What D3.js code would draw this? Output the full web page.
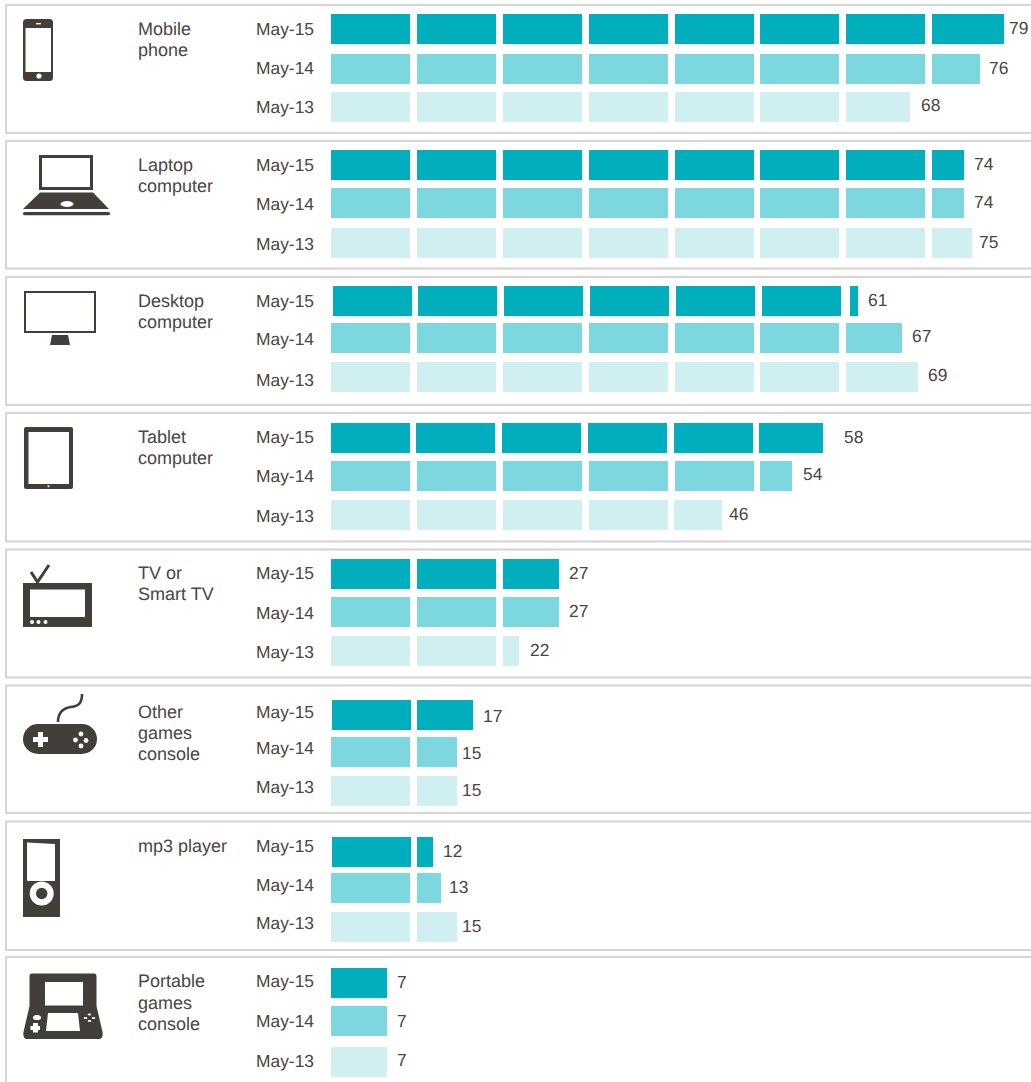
<!DOCTYPE html>
<html><head><meta charset="utf-8">
<script src="https://cdn.jsdelivr.net/npm/d3@7"></script>
<style>
html,body{margin:0;padding:0;background:#fff;overflow:hidden}
text{font-family:"Liberation Sans",Arial,sans-serif;font-size:17.4px;fill:#4a4642;text-rendering:geometricPrecision}
text.cat{font-size:18px}
</style></head><body><svg id="c" width="1031" height="1082"></svg>
<script>
// ---- data ----
const categories = [["Mobile","phone"],["Laptop","computer"],["Desktop","computer"],["Tablet","computer"],["TV or","Smart TV"],["Other","games","console"],["mp3 player"],["Portable","games","console"]];
const years = ["May-15","May-14","May-13"];
const may15 = [79,74,61,58,27,17,12,7];
const may14 = [76,74,67,54,27,15,13,7];
const may13 = [68,75,69,46,22,15,15,7];
const yearColors = ["#00aebd","#7dd7de","#d0eff1"];

// ---- layout ----
const panelTops = [5,141,277,413,549.5,685.5,821.5,957];
const panelBottoms = [133,268.5,405,541.5,677.5,813,950,1090];
const barTops = [[14,54,92],[150,188,228],[286,323,362],[423,461,500],[559,597,636],[700,737,776],[837,873,912],[968,1006,1047]];
const yearLabelY = [[29,68,107],[165,204,244],[301,339,380],[437,476,516],[573,613,652],[712,748,787],[846,885,923],[981,1021,1061]];
const valueLabelY = [[28,68,105],[164,202,242],[300,336,375],[437,474,514],[573,611,650],[716,753,790],[851,887,926],[982,1021,1060]];
const valueGap = [[5,9,11],[10,10,7],[10,10,10],[21,11,7],[10,10,11],[10,5,5],[10,8,5],[10,10,10]];
const segNudge = {"2-0":[2,1,1,1,1,2,4],"3-0":[0,-1,-1,-1,-1,-1],"3-2":[0,0,0,0,-1],"5-0":[1,0],"6-0":[1,0]};
const catLabelY = [[29,50],[165,186],[301,322],[437,458],[573,594],[712,733,754],[846],[981,1003,1024]];
const barH = 30, unit = 10;

const svg = d3.select("#c");
const series = [may15,may14,may13];
const segStart = d3.scaleLinear().domain([0,80]).range([331.4,331.4+8*85.8]);
const segLen = d3.scaleLinear().domain([0,9,10]).range([0,72,79]);
const ink = "#423f3a";

const panels = svg.selectAll("g.panel").data(categories).join("g").attr("class","panel");
panels.append("rect").attr("x",6).attr("y",(d,i)=>panelTops[i])
  .attr("width",1040).attr("height",(d,i)=>panelBottoms[i]-panelTops[i])
  .attr("fill","#fff").attr("stroke","#d5d3d3").attr("stroke-width",2);

panels.each(function(cat,p){
  const g = d3.select(this);
  const y = d3.scaleOrdinal(years, barTops[p]);
  const ly = d3.scaleOrdinal(years, yearLabelY[p]);
  const vy = d3.scaleOrdinal(years, valueLabelY[p]);
  g.append("text").attr("class","cat").selectAll("tspan").data(cat).join("tspan")
    .attr("x",138).attr("y",(d,i)=>catLabelY[p][i]).attr("dy","0.35em").text(d=>d);
  years.forEach((yr,r)=>{
    const v = series[r][p], nudge = segNudge[p+"-"+r]||[];
    const sx = i=>Math.round(segStart(i*unit))+(nudge[i]||0);
    g.append("text").attr("x",256).attr("y",ly(yr)).attr("dy","0.35em").text(yr);
    const full = Math.floor(v/unit), segs = d3.range(full).map(()=>unit);
    if(v%unit) segs.push(v%unit);
    g.selectAll(null).data(segs).join("rect")
      .attr("x",(d,i)=>sx(i))
      .attr("y",y(yr)).attr("width",d=>segLen(d)).attr("height",barH)
      .attr("fill",yearColors[r]);
    const end = sx(segs.length-1)+segLen(segs[segs.length-1]);
    g.append("text").attr("x",end+valueGap[p][r]).attr("y",vy(yr)).attr("dy","0.35em").text(v);
  });
});

// ---- icons ----
const W="#fff";
const icons = `
<g fill="${ink}">
<rect x="23" y="19" width="30" height="62" rx="3.5"/><rect x="25.5" y="28" width="25.5" height="44" fill="${W}"/>
<rect x="36" y="23" width="5" height="1.4" fill="${W}"/><circle cx="39" cy="76" r="2.6" fill="${W}"/>

<rect x="39" y="155" width="54" height="35"/><rect x="42" y="158" width="48" height="29" fill="${W}"/>
<path d="M40 192.5H93L109 209H23Z"/><ellipse cx="67" cy="204" rx="6.5" ry="3" fill="${W}"/>
<rect x="23" y="212" width="87" height="3.2" rx="1.5"/>

<rect x="24" y="291" width="72" height="42"/><rect x="26" y="293" width="68" height="38" fill="${W}"/>
<path d="M52 335H68L70 345H50Z"/>

<rect x="24" y="427" width="49" height="62" rx="2"/><rect x="28.5" y="432" width="40.5" height="52" fill="${W}"/>
<circle cx="48.5" cy="486.3" r="1" fill="${W}"/>

<rect x="23" y="583" width="69" height="44"/><rect x="30" y="589.5" width="55" height="27.5" fill="${W}"/>
<circle cx="32" cy="622" r="2" fill="${W}"/><circle cx="38.5" cy="622" r="2" fill="${W}"/><circle cx="45.5" cy="622" r="2" fill="${W}"/>
<path d="M31 572L37.5 582L49 565" fill="none" stroke="${ink}" stroke-width="3"/>

<path d="M58 722C58 712 64 708 71 707C78 706 82 704 82 694" fill="none" stroke="${ink}" stroke-width="2.6"/>
<rect x="23" y="724" width="74" height="30" rx="15"/>
<path d="M38 732H43V737H48V742H43V747H38V742H33V737H38Z" fill="${W}"/>
<circle cx="81" cy="734" r="2.4" fill="${W}"/><circle cx="75.5" cy="740" r="2.4" fill="${W}"/><circle cx="86" cy="740.5" r="2.4" fill="${W}"/><circle cx="81" cy="746" r="2.4" fill="${W}"/>

<rect x="23" y="839" width="37" height="78"/><path d="M27 842.5L55 844V881H27Z" fill="${W}"/>
<circle cx="41.7" cy="893.5" r="12" fill="${W}"/><circle cx="41.7" cy="893.5" r="5.7"/>

<path d="M32 973.5H94.5Q96.5 973.5 96.5 976V1006L102.5 1032Q103.5 1039 99 1039H27Q22.5 1039 23.5 1032L29.5 1006V976Q29.5 973.5 32 973.5Z"/>
<rect x="45" y="982" width="38" height="23.5" fill="${W}"/>
<path d="M48 1013H78L80 1031H46Z" fill="${W}"/>
<ellipse cx="37" cy="1017.5" rx="4" ry="2.6" fill="${W}"/>
<path d="M33 1023H38V1026H40V1030H38V1032.5H33V1030H30.5V1026H33Z" fill="${W}"/>
<ellipse cx="89.5" cy="1014.5" rx="1.8" ry="1.1" fill="${W}"/><ellipse cx="85.5" cy="1018" rx="1.8" ry="1.1" fill="${W}"/><ellipse cx="93.5" cy="1018" rx="1.8" ry="1.1" fill="${W}"/><ellipse cx="89.5" cy="1021" rx="1.8" ry="1.1" fill="${W}"/>
</g>`;
svg.append("g").attr("class","icons").html(icons);
</script></body></html>
